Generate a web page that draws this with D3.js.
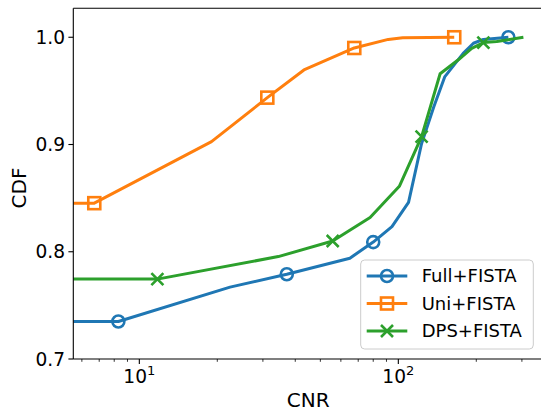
<!DOCTYPE html>
<html>
<head>
<meta charset="utf-8">
<script src="https://cdn.jsdelivr.net/npm/d3@7"></script>
<style>
  html, body { margin: 0; padding: 0; background: #fff; }
  svg { display: block; }
  text { font-family: "DejaVu Sans", sans-serif; fill: #000; }
</style>
</head>
<body>
<div id="chart"></div>
<script>
// CDF of CNR for three sampling schemes

const fullCnr = [3, 8.3, 22.4, 37.1, 65, 80, 94.5, 109.5, 123, 137, 151, 178, 195, 213, 266];
const fullCdf = [0.735, 0.735, 0.767, 0.779, 0.794, 0.809, 0.8235, 0.846, 0.901, 0.935, 0.963, 0.985, 0.9944, 0.998, 1.0];
const fullMarks = [1, 3, 5, 14];

const uniCnr = [3, 6.7, 19.0, 31.2, 43.2, 67.6, 91.4, 104, 164.4];
const uniCdf = [0.8453, 0.8453, 0.9027, 0.9437, 0.9695, 0.990, 0.998, 0.9995, 1.0];
const uniMarks = [1, 3, 5, 8];

const dpsCnr = [3, 11.74, 34.4, 55.8, 77.8, 100.9, 123, 145, 170.5, 192, 213, 240, 304];
const dpsCdf = [0.7745, 0.7745, 0.7955, 0.810, 0.832, 0.861, 0.9074, 0.966, 0.979, 0.9897, 0.995, 0.996, 1.0];
const dpsMarks = [1, 3, 6, 10];

const seriesNames = ['Full+FISTA', 'Uni+FISTA', 'DPS+FISTA'];
const seriesColors = ['#1f77b4', '#ff7f0e', '#2ca02c'];
const seriesShapes = ['circle', 'square', 'x'];

const yTicks = [0.7, 0.8, 0.9, 1.0];
const xMajor = [10, 100];

const W = 541, H = 413;
const pl = 73.3, pr = 545, pt = 8.3, pb = 359;

const svg = d3.select('#chart').append('svg')
  .attr('width', W).attr('height', H);

const x = d3.scaleLog().domain([5.56, 368.4]).range([pl, pr]);
const y = d3.scaleLinear().domain([0.7, 1.027]).range([pb, pt]);

svg.append('defs').append('clipPath').attr('id', 'plotclip')
  .append('rect')
  .attr('x', pl).attr('y', pt)
  .attr('width', pr - pl).attr('height', pb - pt);

const plot = svg.append('g').attr('clip-path', 'url(#plotclip)');

const series = [
  { cnr: fullCnr, cdf: fullCdf, marks: fullMarks },
  { cnr: uniCnr, cdf: uniCdf, marks: uniMarks },
  { cnr: dpsCnr, cdf: dpsCdf, marks: dpsMarks }
];

const line = d3.line().x(d => x(d[0])).y(d => y(d[1]));

function drawMarker(sel, shape, color) {
  if (shape === 'circle') {
    sel.append('circle').attr('r', 6)
      .attr('fill', 'none').attr('stroke', color).attr('stroke-width', 2.6);
  } else if (shape === 'square') {
    sel.append('rect').attr('x', -6).attr('y', -6).attr('width', 12).attr('height', 12)
      .attr('fill', 'none').attr('stroke', color).attr('stroke-width', 2.6);
  } else {
    sel.append('path').attr('d', 'M-6,-6L6,6M-6,6L6,-6')
      .attr('fill', 'none').attr('stroke', color).attr('stroke-width', 2.6);
  }
}

series.forEach((s, i) => {
  const pts = s.cnr.map((c, k) => [c, s.cdf[k]]);
  plot.append('path')
    .attr('d', line(pts))
    .attr('fill', 'none')
    .attr('stroke', seriesColors[i])
    .attr('stroke-width', 3)
    .attr('stroke-linejoin', 'round');
  s.marks.forEach(k => {
    const m = plot.append('g')
      .attr('transform', `translate(${x(pts[k][0])},${y(pts[k][1])})`);
    drawMarker(m, seriesShapes[i], seriesColors[i]);
  });
});

// spines
const spine = svg.append('g').attr('stroke', '#000').attr('stroke-width', 1.1).attr('fill', 'none');
spine.append('line').attr('x1', pl).attr('x2', pl).attr('y1', pt).attr('y2', pb);
spine.append('line').attr('x1', pl).attr('x2', pr).attr('y1', pb).attr('y2', pb);
spine.append('line').attr('x1', pl).attr('x2', pr).attr('y1', pt).attr('y2', pt);
spine.append('line').attr('x1', pr).attr('x2', pr).attr('y1', pt).attr('y2', pb);

// y axis
const yAxis = svg.append('g');
yTicks.forEach(t => {
  yAxis.append('line')
    .attr('x1', pl - 4.9).attr('x2', pl)
    .attr('y1', y(t)).attr('y2', y(t))
    .attr('stroke', '#000').attr('stroke-width', 1.1);
  yAxis.append('text')
    .attr('x', pl - 8.3).attr('y', y(t))
    .attr('dy', '0.36em')
    .attr('text-anchor', 'end')
    .attr('font-size', 18.6)
    .text(d3.format('.1f')(t));
});

// x axis: major + minor ticks
const xAxis = svg.append('g');
const minor = x.ticks().filter(t => !xMajor.includes(t));
minor.forEach(t => {
  xAxis.append('line')
    .attr('x1', x(t)).attr('x2', x(t))
    .attr('y1', pb).attr('y2', pb + 2.8)
    .attr('stroke', '#000').attr('stroke-width', 0.8);
});
xMajor.forEach(t => {
  xAxis.append('line')
    .attr('x1', x(t)).attr('x2', x(t))
    .attr('y1', pb).attr('y2', pb + 4.9)
    .attr('stroke', '#000').attr('stroke-width', 1.1);
  const lbl = xAxis.append('text')
    .attr('x', x(t)).attr('y', 383)
    .attr('text-anchor', 'middle')
    .attr('font-size', 18.6);
  lbl.append('tspan').text('10');
  lbl.append('tspan').attr('font-size', 13).attr('dy', -7.8)
    .text(String(Math.round(Math.log10(t))));
});

// axis labels
svg.append('text')
  .attr('x', (pl + 541) / 2 + 1).attr('y', 406.5)
  .attr('text-anchor', 'middle').attr('font-size', 20)
  .text('CNR');
svg.append('text')
  .attr('transform', 'translate(25.5,188) rotate(-90)')
  .attr('text-anchor', 'middle').attr('font-size', 20)
  .text('CDF');

// legend
const lg = svg.append('g');
lg.append('rect')
  .attr('x', 360.7).attr('y', 260).attr('width', 172.6).attr('height', 89)
  .attr('rx', 4).attr('ry', 4)
  .attr('fill', '#fff').attr('fill-opacity', 0.8)
  .attr('stroke', '#cccccc').attr('stroke-width', 1);
seriesNames.forEach((name, i) => {
  const ry = 276 + i * 27.5;
  lg.append('line')
    .attr('x1', 366.7).attr('x2', 407.3).attr('y1', ry).attr('y2', ry)
    .attr('stroke', seriesColors[i]).attr('stroke-width', 3);
  const m = lg.append('g').attr('transform', `translate(387,${ry})`);
  drawMarker(m, seriesShapes[i], seriesColors[i]);
  lg.append('text')
    .attr('x', 421.7).attr('y', ry).attr('dy', '0.36em')
    .attr('font-size', 18)
    .text(name);
});
</script>
</body>
</html>
